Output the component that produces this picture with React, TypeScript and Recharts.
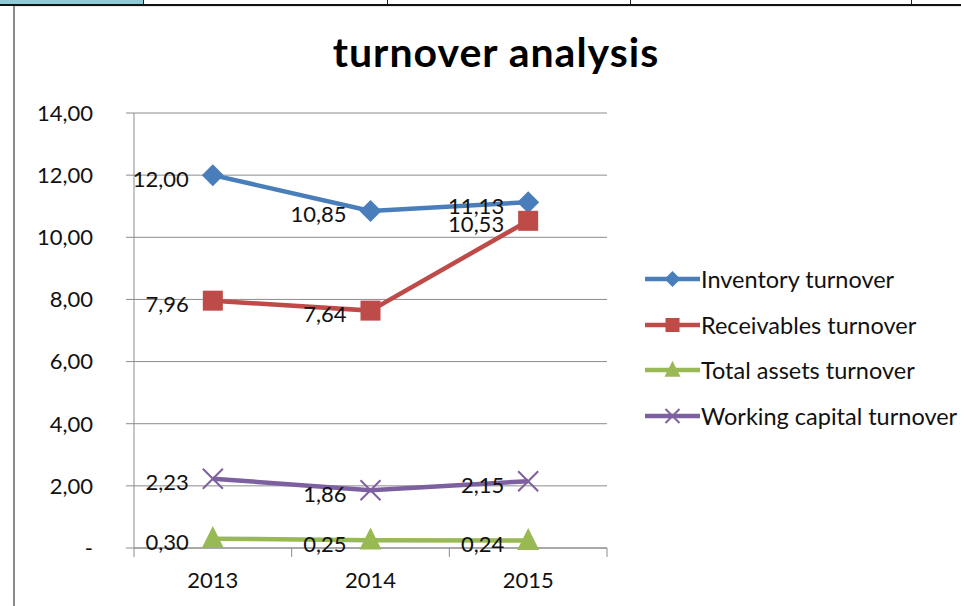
import React from 'react'
import {
  LineChart,
  Line,
  XAxis,
  YAxis,
  CartesianGrid,
  Legend,
  LabelList,
} from 'recharts'

const years = ['2013', '2014', '2015']
const inventory = [12.0, 10.85, 11.13]
const receivables = [7.96, 7.64, 10.53]
const totalAssets = [0.3, 0.25, 0.24]
const workingCapital = [2.23, 1.86, 2.15]
const yTicks = [0, 2, 4, 6, 8, 10, 12, 14]

const seriesNames = [
  'Inventory turnover',
  'Receivables turnover',
  'Total assets turnover',
  'Working capital turnover',
]

const BLUE = '#4a7ebb'
const RED = '#be4b48'
const GREEN = '#98b954'
const PURPLE = '#7d60a0'
const AXIS = '#8c8c8c'
const FONT = 'Lato, "Open Sans", sans-serif'
const X_TICK_MARGIN = 24

const data = years.map((year, i) => ({
  year,
  inventory: inventory[i],
  receivables: receivables[i],
  totalAssets: totalAssets[i],
  workingCapital: workingCapital[i],
}))

const fmt = (v: number) => (v === 0 ? '-' : v.toFixed(2).replace('.', ','))

function marker(kind: string, cx: number, cy: number, s: number, color: string) {
  if (kind === 'diamond')
    return <path d={`M${cx},${cy - s}L${cx + s},${cy}L${cx},${cy + s}L${cx - s},${cy}Z`} fill={color} />
  if (kind === 'square')
    return <rect x={cx - s} y={cy - s} width={s * 2} height={s * 2} fill={color} />
  if (kind === 'triangle')
    return (
      <path
        d={`M${cx},${cy - s * 1.15}L${cx + s},${cy + s * 0.85}L${cx - s},${cy + s * 0.85}Z`}
        fill={color}
      />
    )
  return (
    <g stroke={color} strokeWidth={2}>
      <line x1={cx - s} y1={cy - s} x2={cx + s} y2={cy + s} />
      <line x1={cx - s} y1={cy + s} x2={cx + s} y2={cy - s} />
    </g>
  )
}

const makeDot = (kind: string, color: string, size: number) => (props: any) => {
  const { cx, cy, index } = props
  if (cx == null || cy == null) return <g key={index} />
  return <g key={index}>{marker(kind, cx, cy, size, color)}</g>
}

const pointLabel = (props: any) => {
  const { x, y, value, index } = props
  return (
    <text
      key={index}
      x={x - 24}
      y={y + 3}
      textAnchor="end"
      dominantBaseline="central"
      fontFamily={FONT}
      fontSize={22}
      fill="#111"
    >
      {fmt(value)}
    </text>
  )
}

// category label plus Excel-style tick marks on the band edges
const XTick = (props: any) => {
  const { x, y, payload, index } = props
  const half = payload?.offset ?? 0
  const axisY = y - X_TICK_MARGIN
  const edges = [x - half]
  if (index === years.length - 1) edges.push(x + half)
  return (
    <g>
      {edges.map((ex) => (
        <line key={ex} x1={ex} y1={axisY} x2={ex} y2={axisY + 9} stroke={AXIS} />
      ))}
      <text x={x} y={y} dy="0.71em" textAnchor="middle" fontFamily={FONT} fontSize={22} fill="#111">
        {payload.value}
      </text>
    </g>
  )
}

const legendItems = [
  { name: seriesNames[0], color: BLUE, kind: 'diamond', size: 8 },
  { name: seriesNames[1], color: RED, kind: 'square', size: 7 },
  { name: seriesNames[2], color: GREEN, kind: 'triangle', size: 8 },
  { name: seriesNames[3], color: PURPLE, kind: 'x', size: 7 },
]

const renderLegend = () => (
  <div style={{ fontFamily: FONT, fontSize: 23.5, color: '#111', whiteSpace: 'nowrap' }}>
    {legendItems.map((it) => (
      <div key={it.name} style={{ display: 'flex', alignItems: 'center', height: 45.7 }}>
        <svg width={55} height={24} style={{ marginRight: 1, flex: 'none' }}>
          <line x1={0} y1={12} x2={55} y2={12} stroke={it.color} strokeWidth={4.5} />
          {marker(it.kind, 27.5, 12, it.size, it.color)}
        </svg>
        <span>{it.name}</span>
      </div>
    ))}
  </div>
)

export default function App() {
  return (
    <div style={{ position: 'absolute', left: 0, top: 0, width: 961, height: 606, background: '#fff', overflow: 'hidden' }}>
      {/* spreadsheet row peeking in above the chart */}
      <div style={{ position: 'absolute', left: 0, top: 0, width: 143, height: 4, background: '#8fcbd6' }} />
      {[143, 387, 630, 911].map((x) => (
        <div key={x} style={{ position: 'absolute', left: x, top: 0, width: 1, height: 5, background: '#222' }} />
      ))}
      <div style={{ position: 'absolute', left: 0, top: 4, width: 961, height: 2, background: '#111' }} />
      <div style={{ position: 'absolute', left: 13, top: 6, width: 2, height: 600, background: '#8a8a8a' }} />
      <div style={{ position: 'absolute', left: 15, top: 6, width: 946, height: 1, background: '#e8e8e8' }} />

      <svg style={{ position: 'absolute', left: 0, top: 0 }} width={961} height={100}>
        <text
          x={496}
          y={67}
          textAnchor="middle"
          fontFamily={FONT}
          fontWeight={700}
          fontSize={41}
          letterSpacing={1}
          fill="#000"
        >
          turnover analysis
        </text>
      </svg>

      <div style={{ position: 'absolute', left: 0, top: 0 }}>
        <LineChart
          width={961}
          height={606}
          data={data}
          margin={{ top: 113, right: 354, bottom: 0, left: 0 }}
        >
          <CartesianGrid horizontal vertical={false} stroke={AXIS} strokeWidth={1} />
          <XAxis
            dataKey="year"
            scale="band"
            height={58}
            tickLine={false}
            tickSize={0}
            tickMargin={X_TICK_MARGIN}
            axisLine={{ stroke: AXIS }}
            tick={<XTick />}
          />
          <YAxis
            width={134}
            domain={[0, 14]}
            ticks={yTicks}
            tickFormatter={fmt}
            tickSize={8}
            tickMargin={33}
            tickLine={{ stroke: AXIS }}
            axisLine={{ stroke: AXIS }}
            tick={{ fontFamily: FONT, fontSize: 22, fill: '#111' }}
          />
          <Legend
            layout="vertical"
            align="center"
            verticalAlign="middle"
            content={renderLegend}
            wrapperStyle={{ position: 'absolute', left: 645, top: 256, width: 316 }}
          />
          <Line
            name={seriesNames[0]}
            dataKey="inventory"
            stroke={BLUE}
            strokeWidth={4.5}
            dot={makeDot('diamond', BLUE, 11)}
            isAnimationActive={false}
          >
            <LabelList dataKey="inventory" content={pointLabel} />
          </Line>
          <Line
            name={seriesNames[1]}
            dataKey="receivables"
            stroke={RED}
            strokeWidth={4.5}
            dot={makeDot('square', RED, 10)}
            isAnimationActive={false}
          >
            <LabelList dataKey="receivables" content={pointLabel} />
          </Line>
          <Line
            name={seriesNames[2]}
            dataKey="totalAssets"
            stroke={GREEN}
            strokeWidth={4.5}
            dot={makeDot('triangle', GREEN, 11)}
            isAnimationActive={false}
          >
            <LabelList dataKey="totalAssets" content={pointLabel} />
          </Line>
          <Line
            name={seriesNames[3]}
            dataKey="workingCapital"
            stroke={PURPLE}
            strokeWidth={4.5}
            dot={makeDot('x', PURPLE, 10)}
            isAnimationActive={false}
          >
            <LabelList dataKey="workingCapital" content={pointLabel} />
          </Line>
        </LineChart>
      </div>
    </div>
  )
}
